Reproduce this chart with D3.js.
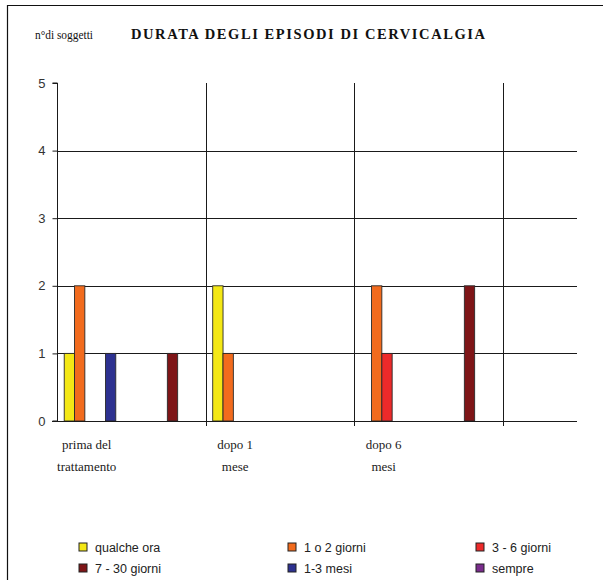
<!DOCTYPE html>
<html>
<head>
<meta charset="utf-8">
<script src="https://cdn.jsdelivr.net/npm/d3@7/dist/d3.min.js"></script>
<style>
  html, body { margin: 0; padding: 0; background: #fff; }
  svg { display: block; }
</style>
</head>
<body>
<svg id="chart" width="603" height="580"></svg>
<script>
// Time points (the last one is an empty, partly visible category)
const categories = ["prima del trattamento", "dopo 1 mese", "dopo 6 mesi", ""];
const categoryLines = [["prima del", "trattamento"], ["dopo 1", "mese"], ["dopo 6", "mesi"], []];

// Episode-duration classes (legend order)
const seriesNames = ["qualche ora", "1 o 2 giorni", "3 - 6 giorni", "7 - 30 giorni", "1-3 mesi", "sempre"];
const seriesColors = ["#f4e815", "#f26b1d", "#ec2a2a", "#7e1517", "#2d3190", "#7a2c8c"];

// Column order of the data sheet inside each cluster (blank columns are unused)
const columnOrder = ["qualche ora", "1 o 2 giorni", "3 - 6 giorni", "", "1-3 mesi", "", "", "", "", "", "7 - 30 giorni", "", "sempre"];

// Number of subjects per class, one array per series, one value per category
const qualcheOra   = [1, 2, 0, 0];
const unoDueGiorni = [2, 1, 2, 0];
const treSeiGiorni = [0, 0, 1, 0];
const setteTrenta  = [1, 0, 2, 0];
const unoTreMesi   = [1, 0, 0, 0];
const sempre       = [0, 0, 0, 0];
const seriesValues = [qualcheOra, unoDueGiorni, treSeiGiorni, setteTrenta, unoTreMesi, sempre];

const yTicks = [0, 1, 2, 3, 4, 5];

const svg = d3.select("#chart");

// outer frame (top and left edges)
svg.append("path")
  .attr("d", "M7.5,580 V5.5 H603")
  .attr("fill", "none").attr("stroke", "#111").attr("stroke-width", 1.2);

// headings
svg.append("text")
  .attr("x", 35).attr("y", 39)
  .attr("font-family", "Liberation Serif, serif")
  .attr("font-size", 11.5).attr("fill", "#111")
  .attr("textLength", 58).attr("lengthAdjust", "spacingAndGlyphs")
  .text("n°di soggetti");
svg.append("text")
  .attr("x", 131).attr("y", 39)
  .attr("font-family", "Liberation Serif, serif")
  .attr("font-weight", "bold")
  .attr("font-size", 14.5).attr("fill", "#111")
  .attr("textLength", 354).attr("lengthAdjust", "spacing")
  .text("DURATA DEGLI EPISODI DI CERVICALGIA");

// plot geometry
const plotLeft = 57, plotRight = 577, plotTop = 83, plotBottom = 421;
const x = d3.scaleBand().domain(categories).range([plotLeft, plotLeft + 4 * 148.5]).padding(0);
const slots = columnOrder.map((d, i) => i);
const xIn = d3.scaleBand().domain(slots).range([0, x.bandwidth()]).paddingInner(0).paddingOuter(0.7);
const y = d3.scaleLinear().domain([0, 5]).range([plotBottom, plotTop]);

svg.append("clipPath").attr("id", "plotClip")
  .append("rect").attr("x", plotLeft - 6).attr("y", plotTop - 2)
  .attr("width", plotRight - plotLeft + 6).attr("height", plotBottom - plotTop + 10);

const plot = svg.append("g").attr("clip-path", "url(#plotClip)");

// horizontal gridlines
plot.append("g").selectAll("line")
  .data(yTicks.filter(t => t > 0 && t < 5))
  .join("line")
  .attr("x1", plotLeft).attr("x2", plotRight)
  .attr("y1", d => Math.round(y(d)) + 0.5).attr("y2", d => Math.round(y(d)) + 0.5)
  .attr("stroke", "#1a1a1a").attr("stroke-width", 1);

// category separators
plot.append("g").selectAll("line")
  .data(categories.slice(1))
  .join("line")
  .attr("x1", d => Math.round(x(d)) + 0.5).attr("x2", d => Math.round(x(d)) + 0.5)
  .attr("y1", plotTop).attr("y2", plotBottom + 5)
  .attr("stroke", "#1a1a1a").attr("stroke-width", 1);

// bars
const barData = [];
seriesNames.forEach((name, si) => {
  categories.forEach((cat, ci) => {
    const v = seriesValues[si][ci];
    if (v > 0) barData.push({ name, cat, value: v, color: seriesColors[si] });
  });
});
plot.append("g").selectAll("rect")
  .data(barData)
  .join("rect")
  .attr("x", d => x(d.cat) + xIn(columnOrder.indexOf(d.name)))
  .attr("y", d => y(d.value))
  .attr("width", xIn.bandwidth())
  .attr("height", d => y(0) - y(d.value))
  .attr("fill", d => d.color)
  .attr("stroke", "#2a2a2a").attr("stroke-width", 0.9);

// y axis
const yAxis = d3.axisLeft(y).tickValues(yTicks).tickFormat(d3.format("d")).tickSize(5).tickPadding(7);
const gy = svg.append("g").attr("transform", `translate(${plotLeft + 0.5},0)`).call(yAxis);
gy.select(".domain").attr("stroke", "#1a1a1a").attr("d", `M-5,${plotTop}H0V${plotBottom}H-5`);
gy.selectAll(".tick line").attr("stroke", "#1a1a1a");
gy.selectAll(".tick text")
  .attr("font-family", "Liberation Sans, Arial, sans-serif")
  .attr("font-size", 13).attr("fill", "#333");

// x axis line
svg.append("line")
  .attr("x1", plotLeft - 5).attr("x2", plotRight)
  .attr("y1", plotBottom + 0.5).attr("y2", plotBottom + 0.5)
  .attr("stroke", "#1a1a1a").attr("stroke-width", 1);

// category labels (two lines each)
const xl = svg.append("g");
categories.forEach((cat, ci) => {
  const cx = x(cat) + x.bandwidth() * 0.2;
  const t = xl.append("text")
    .attr("x", cx)
    .attr("y", 449)
    .attr("text-anchor", "middle")
    .attr("font-family", "Liberation Serif, serif")
    .attr("font-size", 13).attr("fill", "#1a1a1a");
  categoryLines[ci].forEach((ln, li) => {
    t.append("tspan").attr("x", cx).attr("dy", li === 0 ? 0 : 22).text(ln);
  });
});

// legend
const legendX = [83, 292, 480];
const legendY = [547, 568];
const lg = svg.append("g").selectAll("g")
  .data(seriesNames)
  .join("g")
  .attr("transform", (d, i) => `translate(${legendX[i % 3]},${legendY[Math.floor(i / 3)]})`);
lg.append("rect")
  .attr("x", -4).attr("y", -4).attr("width", 8).attr("height", 8)
  .attr("fill", (d, i) => seriesColors[i])
  .attr("stroke", "#222").attr("stroke-width", 1);
lg.append("text")
  .attr("x", 12).attr("y", 4.5)
  .attr("font-family", "Liberation Sans, Arial, sans-serif")
  .attr("font-size", 12.5).attr("fill", "#222")
  .text(d => d);
</script>
</body>
</html>
